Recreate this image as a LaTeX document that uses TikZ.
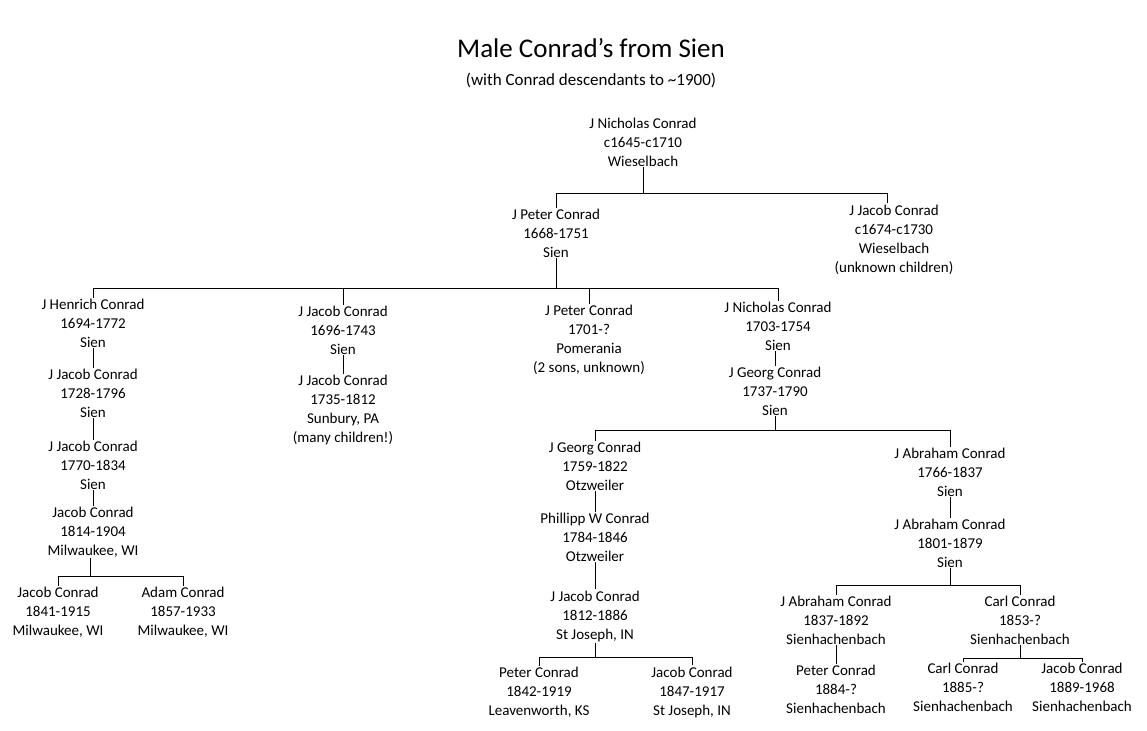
\documentclass[tikz,border=0pt]{standalone}
\usepackage{fontspec}
\setmainfont{Carlito}
\begin{document}
\begin{tikzpicture}[x=1pt,y=-1pt,
  p/.style={align=center,font=\fontsize{15}{19}\selectfont,inner sep=1pt},
  ln/.style={draw=black,line width=0.8pt}]
\useasboundingbox (0,0) rectangle (1147,730);
\node[font=\fontsize{27}{30}\selectfont] (title) at (591,48) {Male Conrad’s from Sien};
\node[font=\fontsize{17}{19}\selectfont] (sub) at (591,80) {(with Conrad descendants to \textasciitilde1900)};

\node[p] (n1) at (643,142) {J Nicholas Conrad\\c1645-c1710\\Wieselbach};
\node[p] (p1) at (556,233) {J Peter Conrad\\1668-1751\\Sien};
\node[p] (jj) at (894,240) {J Jacob Conrad\\c1674-c1730\\Wieselbach\\(unknown children)};
\node[p] (h1) at (93,323) {J Henrich Conrad\\1694-1772\\Sien};
\node[p] (h2) at (93,393) {J Jacob Conrad\\1728-1796\\Sien};
\node[p] (h3) at (93,465) {J Jacob Conrad\\1770-1834\\Sien};
\node[p] (h4) at (93,532) {Jacob Conrad\\1814-1904\\Milwaukee, WI};
\node[p] (h5) at (58,612) {Jacob Conrad\\1841-1915\\Milwaukee, WI};
\node[p] (h6) at (183,612) {Adam Conrad\\1857-1933\\Milwaukee, WI};
\node[p] (b1) at (343,330) {J Jacob Conrad\\1696-1743\\Sien};
\node[p] (b2) at (343,410) {J Jacob Conrad\\1735-1812\\Sunbury, PA\\(many children!)};
\node[p] (c1) at (589,340) {J Peter Conrad\\1701-?\\Pomerania\\(2 sons, unknown)};
\node[p] (d1) at (778,326) {J Nicholas Conrad\\1703-1754\\Sien};
\node[p] (d2) at (775,391) {J Georg Conrad\\1737-1790\\Sien};
\node[p] (e1) at (595,466) {J Georg Conrad\\1759-1822\\Otzweiler};
\node[p] (e2) at (595,537) {Phillipp W Conrad\\1784-1846\\Otzweiler};
\node[p] (e3) at (595,616) {J Jacob Conrad\\1812-1886\\St Joseph, IN};
\node[p] (e4) at (539,692) {Peter Conrad\\1842-1919\\Leavenworth, KS};
\node[p] (e5) at (692,692) {Jacob Conrad\\1847-1917\\St Joseph, IN};
\node[p] (f1) at (950,472) {J Abraham Conrad\\1766-1837\\Sien};
\node[p] (f2) at (950,543) {J Abraham Conrad\\1801-1879\\Sien};
\node[p] (g1) at (836,620) {J Abraham Conrad\\1837-1892\\Sienhachenbach};
\node[p] (g2) at (836,689) {Peter Conrad\\1884-?\\Sienhachenbach};
\node[p] (k1) at (1020,620) {Carl Conrad\\1853-?\\Sienhachenbach};
\node[p] (k2) at (963,687) {Carl Conrad\\1885-?\\Sienhachenbach};
\node[p] (k3) at (1082,687) {Jacob Conrad\\1889-1968\\Sienhachenbach};

\coordinate (bA) at (643,193);
\coordinate (jjtop) at (887,203);
\draw[ln] (n1.south) -- (bA);
\draw[ln] (p1.north) -- (p1.north |- bA) -- (jjtop |- bA) -- (jjtop);
\coordinate (bB) at (556,288);
\draw[ln] (p1.south) -- (bB);
\draw[ln] (h1.north) -- (h1.north |- bB) -- (d1.north |- bB) -- (d1.north);
\draw[ln] (b1.north) -- (b1.north |- bB);
\draw[ln] (c1.north) -- (c1.north |- bB);
\draw[ln] (h1.south) -- (h2.north);
\draw[ln] (h2.south) -- (h3.north);
\draw[ln] (h3.south) -- (h4.north);
\coordinate (bC) at (90,576);
\draw[ln] (h4.south -| bC) -- (bC);
\draw[ln] (h5.north) -- (h5.north |- bC) -- (h6.north |- bC) -- (h6.north);
\draw[ln] (b1.south) -- (b2.north);
\draw[ln] (d1.south -| d2.north) -- (d2.north);
\coordinate (bD) at (775,430);
\draw[ln] (d2.south) -- (bD);
\draw[ln] (e1.north) -- (e1.north |- bD) -- (f1.north |- bD) -- (f1.north);
\draw[ln] (e1.south) -- (e2.north);
\draw[ln] (e2.south) -- (e3.north);
\coordinate (bE) at (595,657);
\draw[ln] (e3.south) -- (bE);
\draw[ln] (e4.north) -- (e4.north |- bE) -- (e5.north |- bE) -- (e5.north);
\draw[ln] (f1.south) -- (f2.north);
\coordinate (bF) at (950,585);
\draw[ln] (f2.south) -- (bF);
\draw[ln] (g1.north) -- (g1.north |- bF) -- (k1.north |- bF) -- (k1.north);
\draw[ln] (g1.south) -- (g2.north);
\coordinate (bG) at (1020,658);
\draw[ln] (k1.south) -- (bG);
\draw[ln] (k2.north) -- (k2.north |- bG) -- (k3.north |- bG) -- (k3.north);
\end{tikzpicture}
\end{document}
